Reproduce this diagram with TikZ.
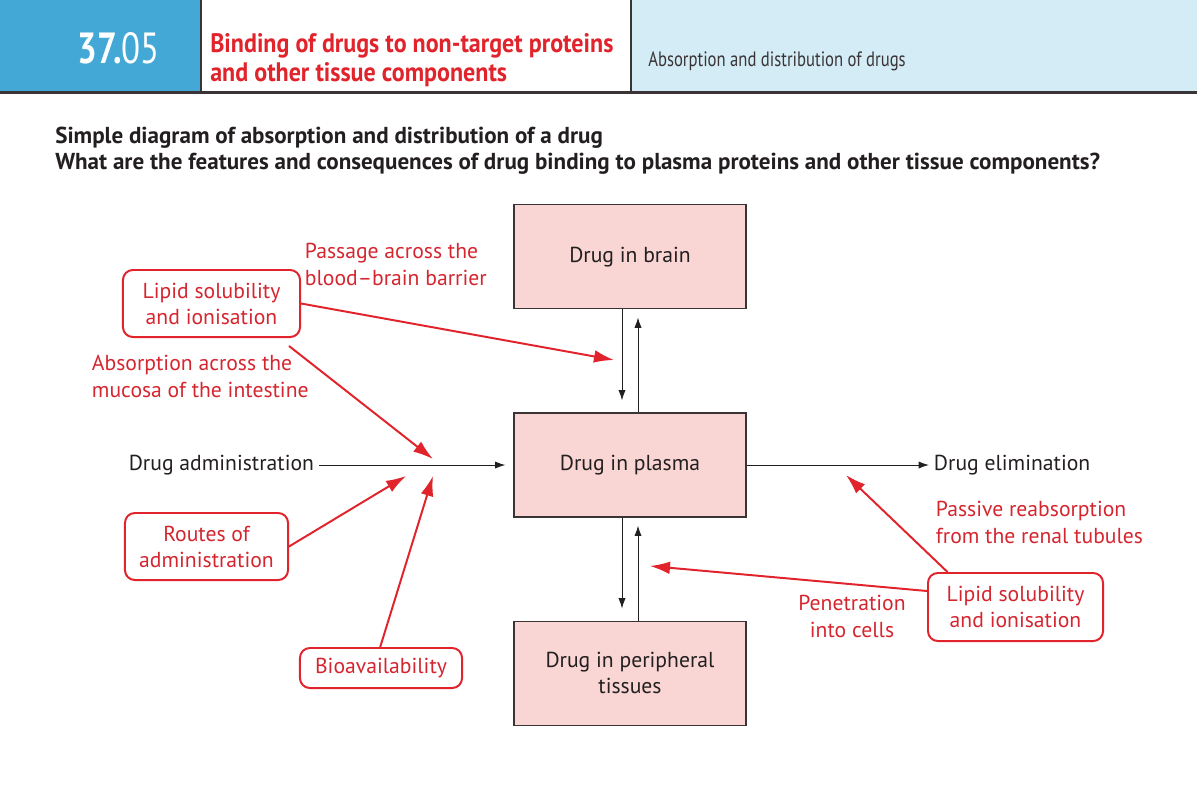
\documentclass[tikz,border=0pt]{standalone}
\usepackage{fontspec}
\setmainfont{PT Sans}
\newfontfamily\condfont[FakeStretch=0.8]{PT Sans}
\newfontfamily\headfont[FakeStretch=0.9]{PT Sans}
\usetikzlibrary{arrows.meta,positioning,calc}
\definecolor{HeadBlue}{HTML}{43A8D6}
\definecolor{HeadPale}{HTML}{D4ECF6}
\definecolor{Ink}{HTML}{231F20}
\definecolor{Frame}{HTML}{3A3436}
\definecolor{Pink}{HTML}{F9D6D4}
\definecolor{Alert}{HTML}{E1232C}
\definecolor{AlertText}{HTML}{D52630}
\tikzset{
  poolbox/.style={draw=Frame,fill=Pink,line width=0.8pt,minimum width=5.8cm,minimum height=2.6cm,align=center,font=\fontsize{15.4}{18.5}\selectfont,text=Ink},
  factorbox/.style={draw=Alert,fill=white,rounded corners=7pt,line width=1.4pt,align=center,font=\fontsize{15.4}{18.5}\selectfont,text=AlertText,minimum height=1.675cm},
  plain/.style={font=\fontsize{15.4}{18.5}\selectfont,text=Ink},
  note/.style={font=\fontsize{15.4}{19}\selectfont,text=AlertText,align=left},
  flow/.style={-{Latex[length=2.6mm,width=1.8mm]},draw=Ink,line width=0.7pt},
  effect/.style={-{Latex[length=5mm,width=3.2mm]},draw=Alert,line width=1.4pt}
}
\begin{document}
\begin{tikzpicture}[x=0.025cm,y=-0.025cm]
  \useasboundingbox (0,0) rectangle (1197,804);
  % header band
  \fill[HeadBlue] (0,0) rectangle (201,92);
  \fill[white] (201,0) rectangle (631,92);
  \fill[HeadPale] (631,0) rectangle (1197,92);
  \draw[Frame,line width=1.4pt] (201,0) -- (201,92);
  \draw[Frame,line width=1.4pt] (631,0) -- (631,92);
  \draw[Frame,line width=2pt] (0,92.5) -- (1197,92.5);
  \node[anchor=base east,inner sep=0pt,text=white,font=\condfont\fontsize{31}{31}\selectfont] (num) at (160,63) {{\bfseries 37.}05};
  \node[anchor=base west,inner sep=0pt,text=Alert,align=left,font=\headfont\bfseries\fontsize{19}{20}\selectfont] (title) at (210,81) {Binding of drugs to non-target proteins\\and other tissue components};
  \node[anchor=base west,inner sep=0pt,text=Frame,font=\condfont\fontsize{14.8}{15}\selectfont] (topic) at (648,66) {Absorption and distribution of drugs};
  % questions
  \node[anchor=base west,inner sep=0pt,align=left,text=Ink,font=\bfseries\fontsize{16.4}{18.4}\selectfont] (quest) at (55,169) {Simple diagram of absorption and distribution of a drug\\What are the features and consequences of drug binding to plasma proteins and other tissue components?};
  % compartments
  \node[poolbox] (plasma) at (630,465) {Drug in plasma};
  \node[poolbox,above=2.575cm of plasma] (brain) {Drug in brain};
  \node[poolbox,below=2.575cm of plasma] (tissue) {Drug in peripheral\\tissues};
  \node[plain,anchor=east] (admin) at (319,465) {Drug administration};
  \node[plain,anchor=west] (elim) at (929,465) {Drug elimination};
  \draw[flow] (admin.east) -- ([xshift=-0.2cm]plasma.west);
  \draw[flow] (plasma.east) -- (elim.west);
  \draw[flow,shorten >=0.3cm] ([xshift=-0.2cm]brain.south) -- ([xshift=-0.2cm]plasma.north);
  \draw[flow,shorten >=0.2cm] ([xshift=0.2cm]plasma.north) -- ([xshift=0.2cm]brain.south);
  \draw[flow,shorten >=0.3cm] ([xshift=-0.2cm]plasma.south) -- ([xshift=-0.2cm]tissue.north);
  \draw[flow,shorten >=0.2cm] ([xshift=0.2cm]tissue.north) -- ([xshift=0.2cm]plasma.south);
  % influencing factors
  \node[factorbox,minimum width=4.425cm] (lipidA) at (211.5,303.5) {Lipid solubility\\and ionisation};
  \node[factorbox,minimum width=4.075cm] (routes) at (206.5,546.5) {Routes of\\administration};
  \node[factorbox,minimum width=4.05cm,minimum height=1cm] (bioav) at (381,668) {Bioavailability};
  \node[factorbox,minimum width=4.375cm,minimum height=1.7cm] (lipidB) at (1015.5,607) {Lipid solubility\\and ionisation};
  \coordinate (bbb) at (614,360);
  \coordinate (mucosa) at (433,459);
  \coordinate (route) at (406,476);
  \coordinate (avail) at (433,476);
  \coordinate (renal) at (846,475);
  \coordinate (cells) at (650,566);
  \draw[effect] (lipidA.east) -- (bbb);
  \draw[effect] (lipidA.south east) ++(-0.3cm,-0.2cm) -- (mucosa);
  \draw[effect] (routes.east) -- (route);
  \draw[effect] ([xshift=-0.02cm]bioav.north) -- (avail);
  \draw[effect] ([xshift=-1.7cm]lipidB.north) -- (renal);
  \draw[effect] ([yshift=0.4cm]lipidB.west) -- (cells);
  % labels
  \node[note,anchor=base west] (lblbbb) at (300,285) {Passage across the\\blood--brain barrier};
  \node[note,anchor=base west] (lblmuc) at (87,397) {Absorption across the\\mucosa of the intestine};
  \node[note,anchor=base west] (lblren) at (931,543) {Passive reabsorption\\from the renal tubules};
  \node[note,anchor=base,align=center] (lblcel) at (852,637) {Penetration\\into cells};
\end{tikzpicture}
\end{document}
